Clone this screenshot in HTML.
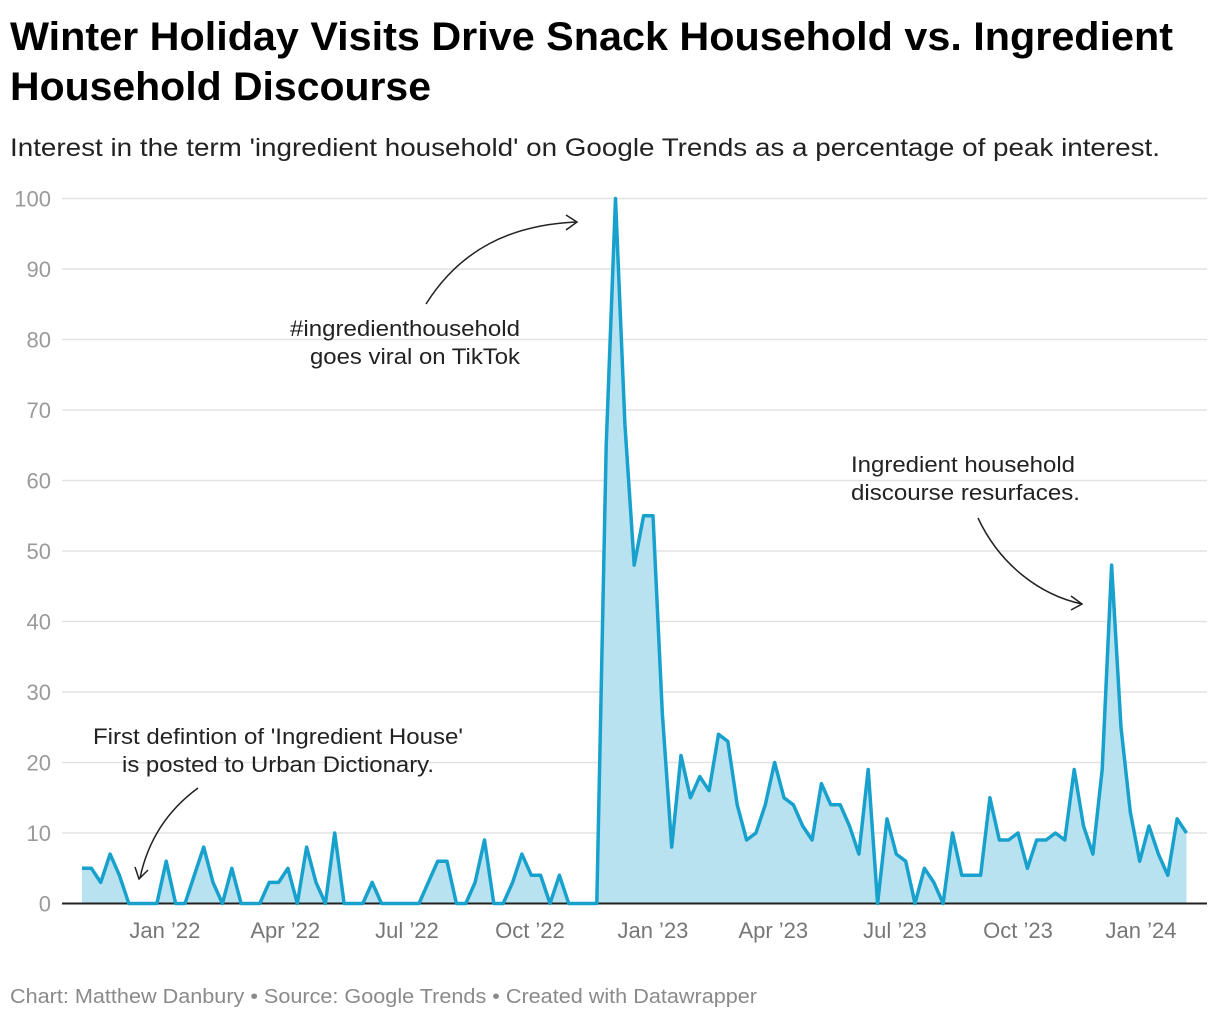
<!DOCTYPE html>
<html><head><meta charset="utf-8">
<style>
html,body{margin:0;padding:0;background:#fff;}
svg{display:block;font-family:"Liberation Sans",sans-serif;}
</style></head>
<body>
<svg id="chart" width="1220" height="1020" viewBox="0 0 1220 1020" xmlns="http://www.w3.org/2000/svg">
<text x="10" y="50" font-size="40" font-weight="bold" fill="#000" textLength="1163" lengthAdjust="spacingAndGlyphs">Winter Holiday Visits Drive Snack Household vs. Ingredient</text>
<text x="10" y="100" font-size="40" font-weight="bold" fill="#000" textLength="421" lengthAdjust="spacingAndGlyphs">Household Discourse</text>
<text x="10" y="156" font-size="25" fill="#222" textLength="1150" lengthAdjust="spacingAndGlyphs">Interest in the term 'ingredient household' on Google Trends as a percentage of peak interest.</text>
<g id="grid"></g>
<g id="yticks"></g>
<g id="xticks"></g>
<path id="area" fill="#b9e2f0" stroke="none"></path>
<line x1="62" y1="903.5" x2="1207" y2="903.5" stroke="#222" stroke-width="2"></line>
<path id="line" fill="none" stroke="#18a1cd" stroke-width="3.5" stroke-linejoin="round"></path>
<g>
<text x="290" y="336" font-size="22" fill="#222" textLength="230" lengthAdjust="spacingAndGlyphs">#ingredienthousehold</text>
<text x="310" y="364" font-size="22" fill="#222" textLength="210" lengthAdjust="spacingAndGlyphs">goes viral on TikTok</text>
<path d="M426,304 C460,250 510,225 576,222" fill="none" stroke="#222" stroke-width="1.5"/>
<path d="M566,215 L577,222 L566,230" fill="none" stroke="#222" stroke-width="1.5"/>
</g>
<g>
<text x="851" y="472" font-size="22" fill="#222" textLength="224" lengthAdjust="spacingAndGlyphs">Ingredient household</text>
<text x="851" y="500" font-size="22" fill="#222" textLength="229" lengthAdjust="spacingAndGlyphs">discourse resurfaces.</text>
<path d="M978,518 C1000,565 1040,595 1082,604" fill="none" stroke="#222" stroke-width="1.5"/>
<path d="M1071,596 L1082,604 L1071,610" fill="none" stroke="#222" stroke-width="1.5"/>
</g>
<g>
<text x="93" y="744" font-size="22" fill="#222" textLength="370" lengthAdjust="spacingAndGlyphs">First defintion of 'Ingredient House'</text>
<text x="122" y="772" font-size="22" fill="#222" textLength="312" lengthAdjust="spacingAndGlyphs">is posted to Urban Dictionary.</text>
<path d="M198,788 C168,810 148,840 140,878" fill="none" stroke="#222" stroke-width="1.5"/>
<path d="M135,867 L139,879 L148,870" fill="none" stroke="#222" stroke-width="1.5"/>
</g>
<text x="10" y="1003" font-size="20" fill="#8a8a8a" textLength="747" lengthAdjust="spacingAndGlyphs">Chart: Matthew Danbury • Source: Google Trends • Created with Datawrapper</text>
</svg>
<script>
const values = [5,5,3,7,4,0,0,0,0,6,0,0,4,8,3,0,5,0,0,0,3,3,5,0,8,3,0,10,0,0,0,3,0,0,0,0,0,3,6,6,0,0,3,9,0,0,3,7,4,4,0,4,0,0,0,0,65,100,68,48,55,55,27,8,21,15,18,16,24,23,14,9,10,14,20,15,14,11,9,17,14,14,11,7,19,0,12,7,6,0,5,3,0,10,4,4,4,15,9,9,10,5,9,9,10,9,19,11,7,19,48,25,13,6,11,7,4,12,10];
const startDate = "2021-10-31";
const yTicks = [0,10,20,30,40,50,60,70,80,90,100];
const xTickDates = ["2022-01-01","2022-04-01","2022-07-01","2022-10-01","2023-01-01","2023-04-01","2023-07-01","2023-10-01","2024-01-01"];
const xTickLabels = ["Jan \u201922","Apr \u201922","Jul \u201922","Oct \u201922","Jan \u201923","Apr \u201923","Jul \u201923","Oct \u201923","Jan \u201924"];

const NS="http://www.w3.org/2000/svg";
const X0=82, STEP=9.36, Y0=903.5, YPX=7.05;
const d0=new Date(startDate+"T00:00:00Z").getTime();
function xIdx(i){return X0+STEP*i;}
function xDate(s){const w=(new Date(s+"T00:00:00Z").getTime()-d0)/(7*864e5);return X0+STEP*w;}
function y(v){return Y0-v*YPX;}

const grid=document.getElementById('grid'), yt=document.getElementById('yticks'), xt=document.getElementById('xticks');
yTicks.forEach(t=>{
  if(t>0){
    const l=document.createElementNS(NS,'line');
    
    
    l.setAttribute('x1',62);l.setAttribute('x2',1207);
    l.setAttribute('y1',y(t));l.setAttribute('y2',y(t));
    l.setAttribute('stroke','#e2e2e2');l.setAttribute('stroke-width','1.5');
    grid.appendChild(l);
  }
  const tx=document.createElementNS(NS,'text');
  
  
  tx.setAttribute('x',51);tx.setAttribute('y',y(t)+8);
  tx.setAttribute('text-anchor','end');tx.setAttribute('font-size','22');tx.setAttribute('fill','#9a9a9a');
  tx.textContent=t;
  yt.appendChild(tx);
});
xTickDates.forEach((d,k)=>{
  const tx=document.createElementNS(NS,'text');
  
  
  tx.setAttribute('x',xDate(d));tx.setAttribute('y',938);
  tx.setAttribute('text-anchor','middle');tx.setAttribute('font-size','22');tx.setAttribute('fill','#777');
  tx.textContent=xTickLabels[k];
  xt.appendChild(tx);
});
let d='';
values.forEach((v,i)=>{d+=(i?'L':'M')+xIdx(i).toFixed(1)+','+y(v).toFixed(1);});
document.getElementById('line').setAttribute('d',d);
document.getElementById('area').setAttribute('d',d+'L'+xIdx(values.length-1).toFixed(1)+','+Y0+'L'+X0+','+Y0+'Z');
</script>
</body></html>
